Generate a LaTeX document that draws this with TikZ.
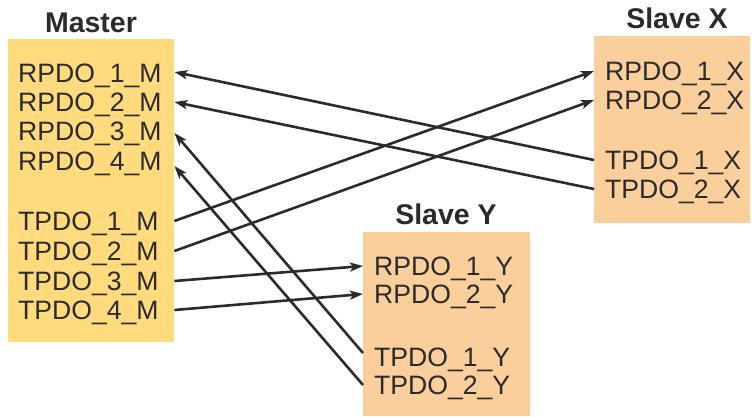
\documentclass[tikz,border=0pt]{standalone}
\usepackage{fontspec}
\setmainfont{Liberation Sans}
\usetikzlibrary{arrows.meta}
\definecolor{masterfill}{RGB}{255,219,126}
\definecolor{slavefill}{RGB}{250,207,156}
\definecolor{ink}{RGB}{43,43,43}
\tikzset{
  box/.style={draw=none,inner sep=0pt,anchor=north west},
  item/.style={anchor=west,inner xsep=0pt,inner ysep=0pt,text height=18pt,text depth=0pt,
    font=\fontsize{26.6}{30}\selectfont,text=ink},
  title/.style={anchor=base,inner sep=0pt,font=\fontsize{28.5}{30}\selectfont\bfseries,text=ink},
  link/.style={draw=ink,line width=2.6pt},
  arr/.style={link,-{Stealth[length=13pt,width=9pt,inset=3pt]}}
}
\begin{document}
\begin{tikzpicture}[x=1pt,y=-1pt]
\useasboundingbox (0,0) rectangle (752,416);
% boxes
\node[box,fill=masterfill,minimum width=166pt,minimum height=303pt] (master) at (8,39) {};
\node[box,fill=slavefill,minimum width=156pt,minimum height=187pt] (slavex) at (594,36) {};
\node[box,fill=slavefill,minimum width=167pt,minimum height=184pt] (slavey) at (363,232) {};
% titles
\node[title] (tm) at (91,32) {Master};
\node[title] (tx) at (677,28) {Slave X};
\node[title] (ty) at (446,224) {Slave Y};
% master items
\node[item] (r1m) at (18,73) {RPDO\_1\_M};
\node[item] (r2m) at (18,102) {RPDO\_2\_M};
\node[item] (r3m) at (18,131) {RPDO\_3\_M};
\node[item] (r4m) at (18,161) {RPDO\_4\_M};
\node[item] (t1m) at (18,221) {TPDO\_1\_M};
\node[item] (t2m) at (18,251) {TPDO\_2\_M};
\node[item] (t3m) at (18,281) {TPDO\_3\_M};
\node[item] (t4m) at (18,310) {TPDO\_4\_M};
% slave x items
\node[item] (r1x) at (605,71) {RPDO\_1\_X};
\node[item] (r2x) at (605,100) {RPDO\_2\_X};
\node[item] (t1x) at (605,160) {TPDO\_1\_X};
\node[item] (t2x) at (605,189) {TPDO\_2\_X};
% slave y items
\node[item] (r1y) at (374,266) {RPDO\_1\_Y};
\node[item] (r2y) at (374,294) {RPDO\_2\_Y};
\node[item] (t1y) at (374,357) {TPDO\_1\_Y};
\node[item] (t2y) at (374,385) {TPDO\_2\_Y};
% connectors
\draw[arr] (t1x.west -| slavex.west) -- ([yshift=1pt]r1m.west -| master.east);
\draw[arr] (t2x.west -| slavex.west) -- (r2m.west -| master.east);
\draw[arr] (t1m.west -| master.east) -- (r1x.west -| slavex.west);
\draw[arr] (t2m.west -| master.east) -- (r2x.west -| slavex.west);
\draw[arr] (t3m.west -| master.east) -- (r1y.west -| slavey.west);
\draw[arr] (t4m.west -| master.east) -- (r2y.west -| slavey.west);
\draw[arr] ([yshift=4pt]t1y.west -| slavey.west) -- ([yshift=-2pt]r3m.west -| master.east);
\draw[arr] (t2y.west -| slavey.west) -- ([yshift=-5pt]r4m.west -| master.east);
\end{tikzpicture}
\end{document}
